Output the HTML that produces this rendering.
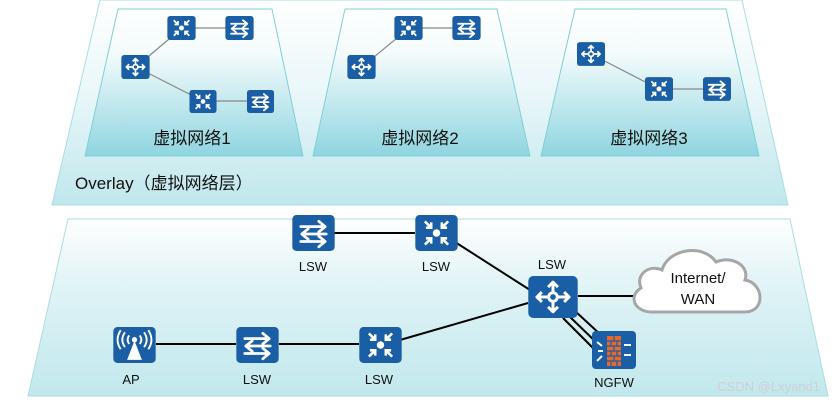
<!DOCTYPE html>
<html><head><meta charset="utf-8"><style>
html,body{margin:0;padding:0;background:#fff;width:834px;height:406px;overflow:hidden}
svg{display:block}
text{font-family:"Liberation Sans","Noto Sans CJK SC",sans-serif;fill:#111}
</style></head><body>
<svg width="834" height="406" viewBox="0 0 834 406" xmlns="http://www.w3.org/2000/svg">
<defs>
<linearGradient id="g1" x1="0" y1="0" x2="0" y2="1">
<stop offset="0" stop-color="#ffffff"/><stop offset="0.45" stop-color="#eaf7f9"/><stop offset="1" stop-color="#bfe7ec"/></linearGradient>
<linearGradient id="g2" x1="0" y1="0" x2="0" y2="1">
<stop offset="0" stop-color="#ffffff"/><stop offset="0.3" stop-color="#f4fbfc"/><stop offset="1" stop-color="#8fd5df"/></linearGradient>
<linearGradient id="g3" x1="0" y1="0" x2="0" y2="1">
<stop offset="0" stop-color="#ffffff"/><stop offset="0.35" stop-color="#e2f4f6"/><stop offset="1" stop-color="#c1e8ed"/></linearGradient>
<symbol id="sw" viewBox="0 0 40 34">
<rect x="0" y="0" width="40" height="34" rx="4" fill="#1a5ea6"/>
<g stroke="#fff" stroke-width="2.6" fill="none" stroke-linecap="round" stroke-linejoin="round">
<path d="M8 11 H31 M25 6 L31 11 L25 16"/><path d="M32 18 H9 M15 13 L9 18 L15 23"/><path d="M8 25 H31 M25 20 L31 25 L25 30"/></g>
</symbol>
<symbol id="st" viewBox="0 0 40 34">
<rect x="0" y="0" width="40" height="34" rx="4" fill="#1a5ea6"/>
<circle cx="20" cy="17" r="3.5" fill="#fff"/>
<g stroke="#fff" stroke-width="2.4" fill="none">
<path d="M9 6 L15 12 M15 7 V12 H10"/><path d="M31 6 L25 12 M25 7 V12 H30"/><path d="M9 28 L15 22 M15 27 V22 H10"/><path d="M31 28 L25 22 M25 27 V22 H30"/></g>
</symbol>
<symbol id="rt" viewBox="0 0 40 34">
<rect x="0" y="0" width="40" height="34" rx="4" fill="#1a5ea6"/>
<g stroke="#fff" stroke-width="2.4" fill="none" stroke-linejoin="round">
<path d="M20 5 V29 M16 9 L20 5 L24 9 M16 25 L20 29 L24 25"/><path d="M7 17 H33 M11 13 L7 17 L11 21 M29 13 L33 17 L29 21"/>
<circle cx="20" cy="17" r="3.5" fill="#1a5ea6"/></g>
</symbol>
<symbol id="ap" viewBox="0 0 40 34">
<rect x="0" y="0" width="40" height="34" rx="4" fill="#1a5ea6"/>
<path d="M20 13 L13 31 H27 Z" fill="#fff"/><circle cx="20" cy="12" r="2.5" fill="#fff"/>
<g stroke="#fff" stroke-width="1.8" fill="none">
<path d="M15 8 Q12 12 15 16 M25 8 Q28 12 25 16"/><path d="M11 5 Q6 12 11 19 M29 5 Q34 12 29 19"/><path d="M7 3 Q1 12 7 21 M33 3 Q39 12 33 21"/></g>
</symbol>
<symbol id="fw" viewBox="0 0 44 38">
<rect x="0" y="0" width="44" height="38" rx="4" fill="#1a5ea6"/>
<rect x="15" y="5" width="14" height="30" fill="#e8672a"/>
<g stroke="#1a5ea6" stroke-width="1.2"><path d="M15 10H29M15 15H29M15 20H29M15 25H29M15 30H29M22 5V10M19 10V15M25 10V15M22 15V20M19 20V25M25 20V25M22 25V30M19 30V35M25 30V35"/></g>
<g stroke="#fff" stroke-width="2" fill="none"><path d="M5 11 L10 15 M6 20H11 M5 30 L10 25 M32 14H39 M32 24H39"/></g>
</symbol>
</defs>
<polygon points="100,0 742,0 788,205 52,205" fill="url(#g1)" stroke="#a9dde5" stroke-width="1"/>
<polygon points="118,9 272,9 303,156 85,156" fill="url(#g2)" stroke="#7fcfda" stroke-width="1"/>
<polygon points="345,9 497,9 530,156 313,156" fill="url(#g2)" stroke="#7fcfda" stroke-width="1"/>
<polygon points="575,9 726,9 759,156 541,156" fill="url(#g2)" stroke="#7fcfda" stroke-width="1"/>
<g stroke="#888" stroke-width="1.2">
<line x1="182" y1="28" x2="240" y2="28"/><line x1="182" y1="28" x2="136" y2="67"/><line x1="136" y1="67" x2="203" y2="101"/><line x1="203" y1="101" x2="261" y2="101"/>
<line x1="409" y1="28" x2="467" y2="28"/><line x1="409" y1="28" x2="362" y2="67"/>
<line x1="591" y1="54" x2="659" y2="89"/><line x1="659" y1="89" x2="717" y2="89"/>
</g>
<use href="#st" x="167" y="16" width="29" height="24"/>
<use href="#sw" x="225" y="16" width="29" height="24"/>
<use href="#rt" x="121" y="55" width="29" height="24"/>
<use href="#st" x="189" y="90" width="28" height="23"/>
<use href="#sw" x="246" y="90" width="29" height="23"/>
<use href="#st" x="394" y="16" width="29" height="24"/>
<use href="#sw" x="452" y="16" width="29" height="24"/>
<use href="#rt" x="347" y="55" width="29" height="24"/>
<use href="#rt" x="577" y="42" width="28" height="24"/>
<use href="#st" x="645" y="77" width="28" height="24"/>
<use href="#sw" x="703" y="77" width="28" height="24"/>
<text x="192" y="144" font-size="17" text-anchor="middle">虚拟网络1</text>
<text x="420" y="144" font-size="17" text-anchor="middle">虚拟网络2</text>
<text x="649" y="144" font-size="17" text-anchor="middle">虚拟网络3</text>
<text x="75" y="189" font-size="17">Overlay（虚拟网络层）</text>
<polygon points="68,219 790,219 828,396 28,396" fill="url(#g3)" stroke="#a9dde5" stroke-width="1"/>
<g stroke="#000" stroke-width="2">
<line x1="334" y1="233" x2="415" y2="233"/>
<line x1="455" y1="242" x2="530" y2="290"/>
<line x1="156" y1="344" x2="236" y2="344"/>
<line x1="279" y1="344" x2="359" y2="344"/>
<line x1="400" y1="340" x2="528" y2="303"/>
<line x1="578" y1="296" x2="635" y2="296"/>
<line x1="575" y1="311" x2="602" y2="336"/>
<line x1="569" y1="316" x2="597" y2="343"/>
<line x1="563" y1="318" x2="593" y2="348"/>
</g>
<use href="#sw" x="292" y="215" width="43" height="36"/>
<use href="#st" x="415" y="215" width="43" height="36"/>
<use href="#rt" x="527" y="276" width="52" height="42"/>
<use href="#fw" x="592" y="331" width="44" height="38"/>
<use href="#ap" x="113" y="327" width="43" height="36"/>
<use href="#sw" x="236" y="327" width="43" height="36"/>
<use href="#st" x="359" y="327" width="43" height="36"/>
<path d="M652,312 C634,312 628,296 641,288 C635,274 650,264 662,270 C668,249 703,243 716,262 C732,255 750,266 745,280 C764,283 766,312 745,312 Z" fill="#fff" stroke="#a6a6a6" stroke-width="3"/>
<text x="698" y="283" font-size="15" text-anchor="middle">Internet/</text>
<text x="698" y="304" font-size="15" text-anchor="middle">WAN</text>
<g font-size="13" text-anchor="middle">
<text x="313" y="271">LSW</text><text x="436" y="271">LSW</text><text x="552" y="269">LSW</text>
<text x="131" y="384">AP</text><text x="257" y="384">LSW</text><text x="379" y="384">LSW</text><text x="614" y="387">NGFW</text>
</g>
<text x="820" y="391" font-size="13" style="fill:#d0d0d0" text-anchor="end">CSDN @Lxyand1</text>
</svg>
</body></html>
